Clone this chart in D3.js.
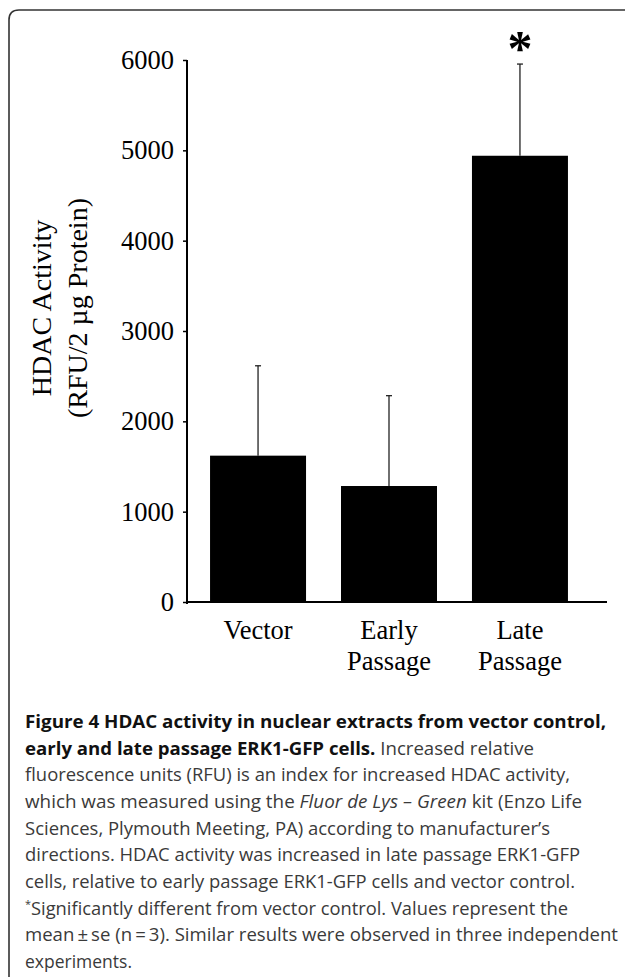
<!DOCTYPE html>
<html>
<head>
<meta charset="utf-8">
<script src="https://cdn.jsdelivr.net/npm/d3@7/dist/d3.min.js"></script>
<style>
  html, body { margin: 0; padding: 0; background: #fff; }
  svg { display: block; }
</style>
</head>
<body>
<script>
// ---- data ----
const categories = [["Vector"], ["Early", "Passage"], ["Late", "Passage"]];
const means = [1620, 1284, 4940];
const errors = [995, 1000, 1015];
const significant = [false, false, true];
const yTicks = [0, 1000, 2000, 3000, 4000, 5000, 6000];
const yLabelLines = ["HDAC Activity", "(RFU/2 \u00b5g Protein)"];
// caption: each line is a list of [text, style] segments, plus measured right edge
const captionLines = [
  [[["Figure 4 HDAC activity in nuclear extracts from vector control,", "b"]], 606],
  [[["early and late passage ERK1-GFP cells.", "b"], [" Increased relative", "r"]], 534],
  [[["fluorescence units (RFU) is an index for increased HDAC activity,", "r"]], 570],
  [[["which was measured using the ", "r"], ["Fluor de Lys \u2013 Green", "i"], [" kit (Enzo Life", "r"]], 582],
  [[["Sciences, Plymouth Meeting, PA) according to manufacturer\u2019s", "r"]], 550],
  [[["directions. HDAC activity was increased in late passage ERK1-GFP", "r"]], 580],
  [[["cells, relative to early passage ERK1-GFP cells and vector control.", "r"]], 575],
  [[["*", "sup"], ["Significantly different from vector control. Values represent the", "r"]], 568],
  [[["mean\u2009\u00b1\u2009se (n\u2009=\u20093). Similar results were observed in three independent", "r"]], 618],
  [[["experiments.", "r"]], 132]
];

// ---- layout ----
const W = 625, H = 977;
const PL = 187, PR = 607, PT = 60, PB = 602;
const serif = "'Liberation Serif', 'Times New Roman', serif";

const svg = d3.select("body").append("svg").attr("width", W).attr("height", H);

// frame (rounded top-left corner, continuing off the page)
svg.append("path")
  .attr("d", "M9,990 L9,20 Q9,10 19,10 L640,10")
  .attr("fill", "none").attr("stroke", "#333").attr("stroke-width", 1.6);

const y = d3.scaleLinear().domain([0, 6000]).range([PB, PT]);
const x = d3.scaleBand().domain(d3.range(categories.length))
  .range([PL, 591]).paddingInner(0.267).paddingOuter(0.176);

// bars
svg.append("g").selectAll("rect").data(means).join("rect")
  .attr("x", (d, i) => x(i))
  .attr("y", d => y(d))
  .attr("width", x.bandwidth())
  .attr("height", d => y(0) - y(d))
  .attr("fill", "#000");

// error bars
const eg = svg.append("g").attr("stroke", "#222").attr("stroke-width", 1.3);
means.forEach((m, i) => {
  const cx = x(i) + x.bandwidth() / 2;
  eg.append("line").attr("x1", cx).attr("x2", cx).attr("y1", y(m)).attr("y2", y(m + errors[i]));
  eg.append("line").attr("x1", cx - 3).attr("x2", cx + 3).attr("y1", y(m + errors[i])).attr("y2", y(m + errors[i]));
});

// significance asterisk
means.forEach((m, i) => {
  if (!significant[i]) return;
  svg.append("text")
    .attr("x", x(i) + x.bandwidth() / 2)
    .attr("y", y(m + errors[i]) + 1)
    .attr("text-anchor", "middle")
    .attr("font-family", serif).attr("font-weight", "bold")
    .attr("font-size", 50).attr("fill", "#000")
    .text("*");
});

// y axis
const yAxis = svg.append("g").attr("transform", `translate(${PL},0)`)
  .call(d3.axisLeft(y).tickValues(yTicks).tickSize(4).tickPadding(9).tickFormat(d3.format("d")));
yAxis.select(".domain").attr("stroke", "#000").attr("stroke-width", 2)
  .attr("d", `M0,${PT}V${PB + 2}`);
yAxis.selectAll(".tick line").attr("stroke", "#000").attr("stroke-width", 1.5);
yAxis.selectAll(".tick text").attr("font-family", serif).attr("font-size", 26.5).attr("fill", "#000");

// x baseline
svg.append("line").attr("x1", PL).attr("x2", PR).attr("y1", y(0)).attr("y2", y(0))
  .attr("stroke", "#000").attr("stroke-width", 2);

// category labels
categories.forEach((lines, i) => {
  const t = svg.append("text")
    .attr("text-anchor", "middle")
    .attr("font-family", serif).attr("font-size", 26.5).attr("fill", "#000");
  lines.forEach((s, j) => {
    t.append("tspan").attr("x", x(i) + x.bandwidth() / 2).attr("y", 639 + j * 31).text(s);
  });
});

// y label
const yl = svg.append("text")
  .attr("transform", "translate(0,308) rotate(-90)")
  .attr("text-anchor", "middle")
  .attr("font-family", serif).attr("font-size", 28).attr("fill", "#000");
yLabelLines.forEach((s, j) => {
  yl.append("tspan").attr("x", 0).attr("y", 51 + j * 36).text(s);
});

// caption
const capFont = "'Open Sans', 'Noto Sans', sans-serif";
captionLines.forEach(([segs, right], i) => {
  const t = svg.append("text")
    .attr("x", 25).attr("y", 728 + i * 26.67)
    .attr("font-family", capFont).attr("font-size", 18.5).attr("fill", "#3a3a3a");
  if (right) t.attr("textLength", right - 25).attr("lengthAdjust", "spacingAndGlyphs");
  segs.forEach(([s, st]) => {
    const ts = t.append("tspan").text(s);
    if (st === "b") ts.attr("font-weight", "bold").attr("fill", "#111");
    if (st === "i") ts.attr("font-style", "italic");
    if (st === "sup") ts.attr("font-size", 11).attr("dy", -7);
    if (st === "r" && segs[0][1] === "sup" && s !== "*") ts.attr("dy", 7);
  });
});
</script>
</body>
</html>
